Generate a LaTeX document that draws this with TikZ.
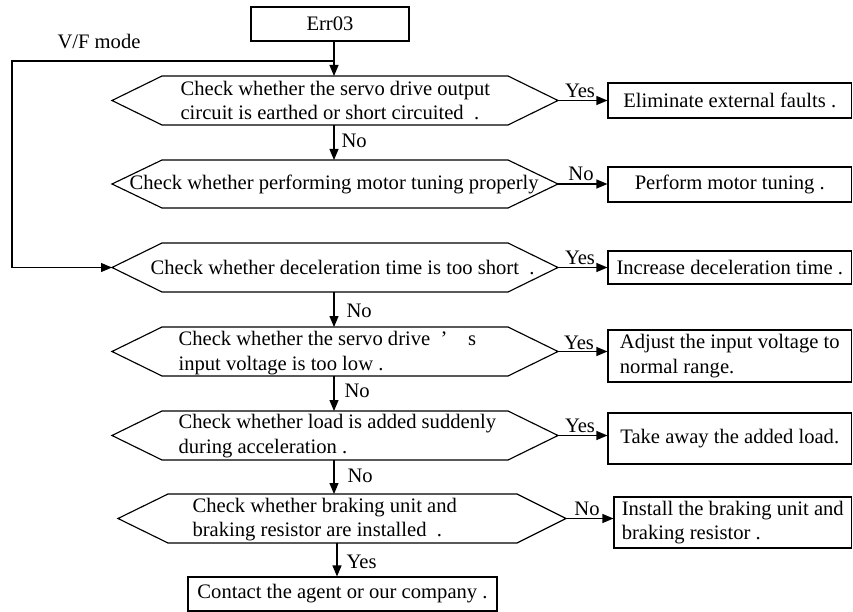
\documentclass[tikz,border=0pt]{standalone}
\usepackage{fontspec}
\setmainfont{Liberation Serif}
\usetikzlibrary{arrows.meta}
\newcommand\hexshape[8]{% name, xtipL, xcL, xcR, xtipR, ytop, ybot, xv
  \draw (#2,{(#6+#7)/2}) -- (#3,#6) -- (#4,#6) -- (#5,{(#6+#7)/2}) -- (#4,#7) -- (#3,#7) -- cycle;
  \coordinate (#1w) at (#2,{(#6+#7)/2});
  \coordinate (#1e) at (#5,{(#6+#7)/2});
  \coordinate (#1t) at (#8,#6);
  \coordinate (#1b) at (#8,#7);
}
\begin{document}
\begin{tikzpicture}[x=1pt,y=-1pt,line width=1.15pt,
  every node/.style={font=\fontsize{20.6}{24.5}\selectfont, inner sep=0pt},
  arr/.style={-{Triangle[length=11pt,width=9pt]}},
  boxn/.style={draw, rectangle, align=left},
  txt/.style={anchor=west, align=left},
  lbl/.style={anchor=base west},
  hlbl/.style={anchor=base}]
\useasboundingbox (0,0) rectangle (853,612);

% start box
\node[boxn, minimum width=158pt, minimum height=34pt] (err) at (330,24) {Err03};
\node (vf) at (99,42) {V/F mode};

% decision shapes
\hexshape{d1}{112}{162}{508}{558}{76}{125}{334}
\hexshape{d2}{112}{162}{508}{558}{160}{208}{334}
\hexshape{d3}{112}{162}{508}{558}{243}{292}{334}
\hexshape{d4}{112}{162}{508}{558}{327}{376}{334}
\hexshape{d5}{112}{162}{508}{558}{411}{460}{334}
\hexshape{d6}{118}{168}{517}{566}{494}{543}{337}
\coordinate (d6t) at (334,494);

\node[txt] (t1) at (180,100.5) {Check whether the servo drive output\\circuit is earthed or short circuited\ \ .};
\node[txt] (t2) at (129,184) {Check whether performing motor tuning properly};
\node[txt] (t3) at (150,267) {Check whether deceleration time is too short\ \ .};
\node[txt] (t4) at (178,353) {Check whether the servo drive\ \ ’\quad s\\input voltage is too low\ .};
\node[txt] (t5) at (178,436) {Check whether load is added suddenly\\during acceleration\ .};
\node[txt] (t6) at (192,519.5) {Check whether braking unit and\\braking resistor are installed\ \ .};

% result boxes
\node[boxn, minimum width=243.5pt, minimum height=35pt] (b1) at (729.75,100.5) {Eliminate external faults\ .};
\node[boxn, minimum width=243.5pt, minimum height=35pt] (b2) at (729.75,184.5) {Perform motor tuning\ .};
\node[boxn, minimum width=243.5pt, minimum height=33pt] (b3) at (729.75,267.5) {Increase deceleration time\ .};
\node[boxn, minimum width=243.5pt, minimum height=52pt] (b4) at (729.75,356) {Adjust the input voltage to\\normal range.};
\node[boxn, minimum width=243.5pt, minimum height=51pt] (b5) at (729.75,438.5) {Take away the added load.};
\node[boxn, minimum width=237.5pt, minimum height=51pt] (b6) at (732.75,522.5) {Install the braking unit and\\braking resistor\ .};
\node[boxn, minimum width=309pt, minimum height=34pt] (fin) at (342.5,594) {Contact the agent or our company\ .};

% vertical flow
\coordinate (j) at (334,61);
\draw[arr] (err.south -| d1t) -- (d1t);
\draw[arr] (d1b) -- (d2t);
\draw[arr] (d3b) -- (d4t);
\draw[arr] (d4b) -- (d5t);
\draw[arr] (d5b) -- (d6t);
\draw[arr] (d6b) -- (fin.north -| d6b);
\coordinate (lp) at (12,61);
\draw[arr] (j) -- (lp) -- (lp |- d3w) -- (d3w);

% horizontal flow
\draw[arr] (d1e) -- (b1.west |- d1e);
\draw[arr] (d2e) -- (b2.west |- d2e);
\draw[arr] (d3e) -- (b3.west |- d3e);
\draw[arr] (d4e) -- (b4.west |- d4e);
\draw[arr] (d5e) -- (b5.west |- d5e);
\draw[arr] (d6e) -- (b6.west |- d6e);

% labels
\node[lbl] (l1) at (341,148) {No};
\node[lbl] (l3) at (346,317) {No};
\node[lbl] (l4) at (344,397) {No};
\node[lbl] (l5) at (347,482) {No};
\node[lbl] (l6) at (346,568) {Yes};
\node[hlbl] (h1) at (580,98) {Yes};
\node[hlbl] (h2) at (581,181) {No};
\node[hlbl] (h3) at (580,264) {Yes};
\node[hlbl] (h4) at (579,349) {Yes};
\node[hlbl] (h5) at (580,432) {Yes};
\node[hlbl] (h6) at (587,515) {No};
\end{tikzpicture}
\end{document}
